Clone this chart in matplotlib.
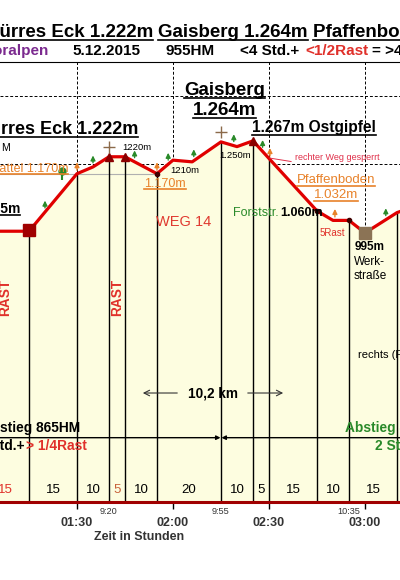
import matplotlib
matplotlib.use('Agg')
import matplotlib.pyplot as plt
from matplotlib.lines import Line2D
import numpy as np

plt.rcParams['font.family'] = ['Liberation Sans', 'DejaVu Sans']

# profile: time in minutes (01:30 = 90) and altitude in m
prof_t = [60, 75, 90, 95, 100, 105, 115, 120, 126, 135, 140, 145, 150, 165, 170, 175, 180, 190, 196]
prof_e = [1000, 1000, 1170, 1190, 1220, 1220, 1170, 1210, 1205, 1264, 1250, 1267, 1215, 1060, 1032, 1032, 995, 1055, 1075]

# walking segments (minutes) -> drop lines and labels
seg_t = [60, 75, 90, 100, 105, 115, 135, 145, 150, 165, 175, 190]
seg_col = ['#e0302a', 'black', 'black', '#c8603a', 'black', 'black', 'black', 'black', 'black', 'black', 'black']

tick_t = [90, 120, 150, 180]
tick_lab = ['01:30', '02:00', '02:30', '03:00']
clock_t = [100, 135, 175]
clock_lab = ['9:20', '9:55', '10:35']

grid_e = [400, 600, 800, 1000, 1200, 1400]

green_arrows = [80, 95, 108, 118.5, 126.5, 139, 148, 186.5]
orange_arrows = [90, 115, 150.3, 170.6]
peak_t = [100, 105, 145]
cross_t = [100, 135]

cream = '#fdfde0'
red = '#e00000'
orange = '#e8822a'
green = '#2a8a2a'

fig = plt.figure(figsize=(4, 5.8), dpi=100)
ax = fig.add_axes([0, 0.1345, 1, 0.7586])
ax.set_xlim(65.94, 190.94)
ax.set_ylim(200, 1500)

for e in grid_e:
    ax.axhline(e, color='black', lw=0.7, ls=(0, (3, 2)), zorder=0.5)
for t in tick_t:
    ax.axvline(t, color='black', lw=0.7, ls=(0, (3, 2)), zorder=0.5)

ax.fill_between(prof_t, prof_e, 200, color=cream, zorder=1, lw=0)
ax.hlines(1170, 65, 115, color='#b0b0b0', lw=0.8, zorder=1.5)

drop_e = np.interp(seg_t, prof_t, prof_e)
ax.vlines(seg_t[1:], 200, drop_e[1:], color='black', lw=1, zorder=2)

ax.plot(prof_t, prof_e, color=red, lw=2.3, zorder=4, solid_joinstyle='round')

# markers
ax.plot([75], [1003], marker='s', ms=8, color='#a00000', zorder=5)
ax.plot(peak_t, np.interp(peak_t, prof_t, prof_e), ls='none', marker='^', ms=6, color='#8b0000', zorder=5)
ax.plot([115, 165, 175], [1170, 1060, 1032], ls='none', marker='o', ms=3, color='#400000', zorder=5)
ax.plot([180], [995], marker='s', ms=8, color='#8b7355', zorder=5)
for t in cross_t:
    ax.plot([t], [np.interp(t, prof_t, prof_e) + 28], marker='+', ms=9, mew=1, color='#8b6a4a', zorder=5)
for t in green_arrows:
    e0 = np.interp(t, prof_t, prof_e)
    ax.annotate('', xy=(t, e0 + 42), xytext=(t, e0 + 4),
                arrowprops=dict(arrowstyle='-|>', color=green, lw=1, mutation_scale=7), zorder=5)
for t in orange_arrows:
    e0 = np.interp(t, prof_t, prof_e)
    ax.annotate('', xy=(t, e0 + 42), xytext=(t, e0 + 2),
                arrowprops=dict(arrowstyle='-|>', color=orange, lw=1, mutation_scale=7), zorder=5)
# bench
ax.vlines(85.3, 1150, 1175, color=green, lw=1.5, zorder=5)
ax.plot([85.3], [1178], marker='o', ms=6, color=green, zorder=5, markeredgewidth=0)

# segment labels at the bottom
for i in range(len(seg_t) - 1):
    mid = (seg_t[i] + seg_t[i + 1]) / 2
    ax.text(mid, 235, str(seg_t[i + 1] - seg_t[i]), ha='center', va='center',
            fontsize=9.5, color=seg_col[i], zorder=6)

# axes styling
for s in ['left', 'right']:
    ax.spines[s].set_visible(False)
ax.spines['top'].set_color('black')
ax.spines['top'].set_linewidth(0.8)
ax.spines['bottom'].set_color('#a00000')
ax.spines['bottom'].set_linewidth(2.2)
ax.spines['bottom'].set_zorder(6)
ax.set_yticks([])
ax.set_xticks(tick_t)
ax.set_xticklabels(tick_lab, fontsize=9, fontweight='bold', color='#333333')
ax.tick_params(axis='x', length=5, width=1, color='black', pad=6)
ax.set_facecolor('white')

xt = ax.get_xaxis_transform()
for t, lab in zip(clock_t, clock_lab):
    ax.text(t, -0.021, lab, transform=xt, ha='center', va='center', fontsize=6.6, color='#333333')
ax.text(109.4, -0.08, 'Zeit in Stunden', transform=xt, ha='center', va='center',
        fontsize=9, fontweight='bold', color='#333333')

under = []


def utext(x, y, s, **kw):
    t = ax.text(x, y, s, va='baseline', zorder=7, **kw)
    under.append(t)
    return t


# big labels
utext(109.1, 1287, 'Dürres Eck 1.222m', ha='right', fontsize=13, fontweight='bold')
utext(136.1, 1402, 'Gaisberg', ha='center', fontsize=13.5, fontweight='bold')
utext(136.1, 1343, '1.264m', ha='center', fontsize=13.5, fontweight='bold')
utext(144.7, 1293, '1.267m Ostgipfel', ha='left', fontsize=11.2, fontweight='bold')
utext(87.2, 1175, 'Sattel 1.170m', ha='right', fontsize=9, color=orange)
utext(117.5, 1131, '1.170m', ha='center', fontsize=9, color=orange)
utext(72.2, 1054, '1.005m', ha='right', fontsize=10, fontweight='bold')
utext(170.9, 1142, 'Pfaffenboden', ha='center', fontsize=9.5, color=orange)
utext(170.9, 1098, '1.032m', ha='center', fontsize=9.5, color=orange)

ax.text(66.2, 1246, 'M', ha='left', va='center', fontsize=7.5, zorder=7)
ax.text(108.75, 1246, '1220m', ha='center', va='center', fontsize=6.8, zorder=7)
ax.text(123.75, 1178, '1210m', ha='center', va='center', fontsize=6.8, zorder=7)
ax.text(139.4, 1225, '1.250m', ha='center', va='center', fontsize=6.8, zorder=7)
ax.text(158.1, 1219, 'rechter Weg gesperrt', ha='left', va='center', fontsize=6.5, color='#e0304a', zorder=7)
ax.plot([150.3, 156.9], [1216, 1206], color='#e0304a', lw=0.7, zorder=7)
ax.text(138.75, 1054, 'Forststr.', ha='left', va='center', fontsize=9, color=green, zorder=7)
ax.text(153.4, 1054, '1.060m', ha='left', va='center', fontsize=9, fontweight='bold', zorder=7)
ax.text(165.9, 995, '5Rast', ha='left', va='center', fontsize=7, color='#e0302a', zorder=7)
ax.text(176.9, 953, '995m', ha='left', va='center', fontsize=8.5, fontweight='bold', zorder=7)
ax.text(176.4, 909, 'Werk-', ha='left', va='center', fontsize=8.5, zorder=7)
ax.text(176.4, 868, 'straße', ha='left', va='center', fontsize=8.5, zorder=7)
ax.text(177.8, 634, 'rechts (Forststr.)', ha='left', va='center', fontsize=8, zorder=7)
ax.text(123.4, 1027, 'WEG 14', ha='center', va='center', fontsize=10.5, color='#e03a30', zorder=7)
ax.text(67.5, 803, 'RAST', ha='center', va='center', rotation=90, fontsize=9.8,
        fontweight='bold', color='#e0302a', zorder=7)
ax.text(102.5, 803, 'RAST', ha='center', va='center', rotation=90, fontsize=9.8,
        fontweight='bold', color='#e0302a', zorder=7)

# distance arrows
ax.text(132.5, 522, '10,2 km', ha='center', va='center', fontsize=9.8, fontweight='bold', zorder=7)
ax.annotate('', xy=(109.7, 522), xytext=(122.2, 522),
            arrowprops=dict(arrowstyle='->', color='#333333', lw=0.8), zorder=7)
ax.annotate('', xy=(155.3, 522), xytext=(142.5, 522),
            arrowprops=dict(arrowstyle='->', color='#333333', lw=0.8), zorder=7)
ax.annotate('', xy=(134.85, 390), xytext=(60, 390),
            arrowprops=dict(arrowstyle='-|>', color='black', lw=1, mutation_scale=6,
                            shrinkA=0, shrinkB=0), zorder=7)
ax.annotate('', xy=(135.15, 390), xytext=(200, 390),
            arrowprops=dict(arrowstyle='-|>', color='black', lw=1, mutation_scale=6,
                            shrinkA=0, shrinkB=0), zorder=7)

ax.text(90.9, 419, 'Aufstieg 865HM', ha='right', va='center', fontsize=9.9, fontweight='bold', zorder=7)
ax.text(73.75, 366, '2 Std.+', ha='right', va='center', fontsize=9.9, fontweight='bold', zorder=7)
ax.text(74.2, 366, '> 1/4Rast', ha='left', va='center', fontsize=9.9, fontweight='bold',
        color='#e0302a', zorder=7)
ax.text(173.75, 419, 'Abstieg 865HM', ha='left', va='center', fontsize=9.9, fontweight='bold',
        color=green, zorder=7)
ax.text(183.1, 366, '2 Std.+', ha='left', va='center', fontsize=9.9, fontweight='bold',
        color=green, zorder=7)

# header lines
ft = []
ft.append(fig.text(0.3825, 1 - 37 / 580, 'Dürres Eck 1.222m', ha='right', va='baseline',
                   fontsize=13.5, fontweight='bold'))
ft.append(fig.text(0.395, 1 - 37 / 580, 'Gaisberg 1.264m', ha='left', va='baseline',
                   fontsize=13.5, fontweight='bold'))
ft.append(fig.text(0.7825, 1 - 37 / 580, 'Pfaffenboden 1.032m', ha='left', va='baseline',
                   fontsize=13.5, fontweight='bold'))
y2 = 1 - 51 / 580
fig.text(0.12, y2, 'Koralpen', ha='right', va='center', fontsize=11, fontweight='bold', color='#7b2a8f')
fig.text(0.265, y2, '5.12.2015', ha='center', va='center', fontsize=11, fontweight='bold')
fig.text(0.4752, y2, '955HM', ha='center', va='center', fontsize=11, fontweight='bold')
fig.text(0.60, y2, '<4 Std.+', ha='left', va='center', fontsize=11, fontweight='bold')
fig.text(0.7625, y2, '<1/2Rast', ha='left', va='center', fontsize=11, fontweight='bold', color='#e0302a')
fig.text(0.93, y2, '= >4', ha='left', va='center', fontsize=11, fontweight='bold')

# underlines
fig.canvas.draw()
for t in under + ft:
    bb = t.get_window_extent()
    base = t.get_transform().transform(t.get_position())[1]
    yy = (base - 2.5) / fig.bbox.height
    fig.add_artist(Line2D([bb.x0 / fig.bbox.width, bb.x1 / fig.bbox.width], [yy, yy],
                          color=t.get_color(), lw=1.2, zorder=8))

fig.savefig('out.png', dpi=100)
